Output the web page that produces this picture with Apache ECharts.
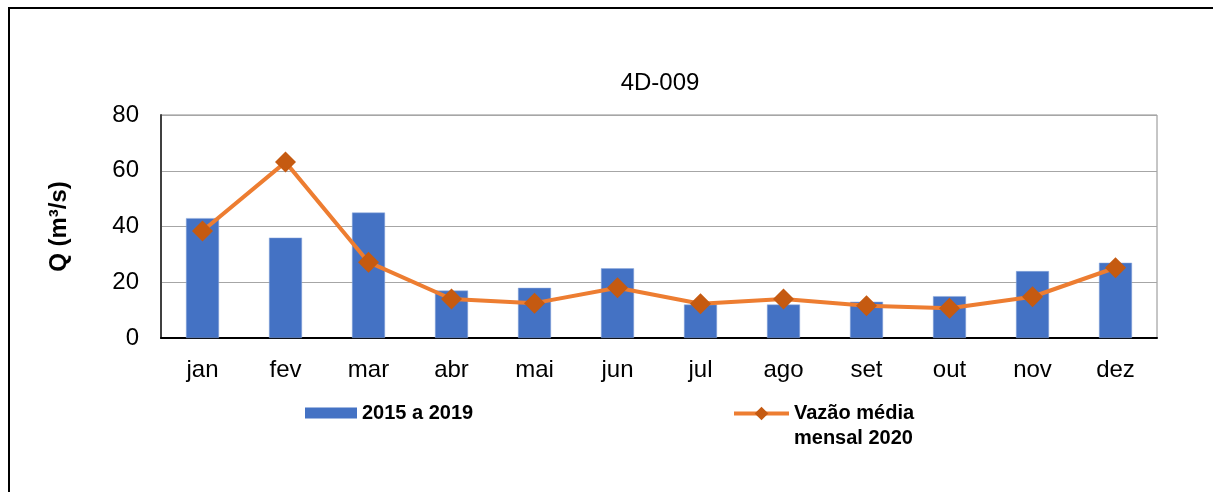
<!DOCTYPE html>
<html>
<head>
<meta charset="utf-8">
<script src="https://cdn.jsdelivr.net/npm/echarts@6/dist/echarts.min.js"></script>
<style>
  html, body { margin: 0; padding: 0; background: #fff; }
  #chart { width: 1213px; height: 492px; }
</style>
</head>
<body>
<div id="chart"></div>
<script>
// dados
const meses = ["jan", "fev", "mar", "abr", "mai", "jun", "jul", "ago", "set", "out", "nov", "dez"];
const media2015a2019 = [43, 36, 45, 17, 18, 25, 12, 12, 13, 15, 24, 27];
const vazao2020 = [38.4, 63.1, 27.2, 14, 12.5, 18, 12.3, 14, 11.6, 10.7, 14.8, 25.2];

const fonte = "Liberation Sans, Arial, sans-serif";

let myChart = echarts.init(document.getElementById("chart"));
myChart.setOption({
  animation: false,
  textStyle: { fontFamily: fonte },
  title: {
    text: "4D-009",
    left: 655,
    top: 66,
    textAlign: "center",
    textStyle: { fontSize: 24, fontWeight: "normal", color: "#000", fontFamily: fonte },
  },
  graphic: [
    {
      type: "rect",
      shape: { x: 9, y: 8, width: 1400, height: 700 },
      style: { fill: "none", stroke: "#000", lineWidth: 2 },
      silent: true,
    },
  ],
  grid: {
    left: 161,
    top: 115,
    width: 996,
    height: 223,
    show: true,
    borderColor: "#8c8c8c",
    borderWidth: 1,
  },
  legend: [
    {
      left: 300,
      top: 398,
      icon: "rect",
      itemWidth: 52,
      itemHeight: 11,
      itemStyle: { borderWidth: 0 },
      data: ["2015 a 2019"],
      textStyle: { fontSize: 20, fontWeight: "bold", color: "#000", lineHeight: 20, fontFamily: fonte },
    },
    {
      left: 727,
      top: 371,
      itemWidth: 55,
      itemHeight: 17,
      lineStyle: { width: 4 },
      data: ["Vazão média\nmensal 2020"],
      // linha vazia em cima para alinhar o ícone com a primeira linha
      formatter: (name) => "\n" + name,
      textStyle: { fontSize: 20, fontWeight: "bold", color: "#000", lineHeight: 25, fontFamily: fonte },
    },
  ],
  xAxis: {
    type: "category",
    data: meses,
    axisTick: { show: false },
    axisLine: { lineStyle: { color: "#000", width: 2 } },
    axisLabel: { fontSize: 24, color: "#000", margin: 20, fontFamily: fonte },
  },
  yAxis: {
    type: "value",
    min: 0,
    max: 80,
    interval: 20,
    name: "Q (m³/s)",
    nameLocation: "middle",
    nameGap: 90,
    nameTextStyle: { fontSize: 24, fontWeight: "bold", color: "#000", fontFamily: fonte },
    axisLine: { show: true, lineStyle: { color: "#404040", width: 2 } },
    axisTick: { show: false },
    axisLabel: { fontSize: 24, color: "#000", margin: 22, fontFamily: fonte },
    splitLine: { lineStyle: { color: "#a6a6a6", width: 1 } },
  },
  series: [
    {
      name: "2015 a 2019",
      type: "bar",
      data: media2015a2019,
      barWidth: 33,
      itemStyle: { color: "#4472C4", borderColor: "#8faadc", borderWidth: 0.5 },
    },
    {
      name: "Vazão média\nmensal 2020",
      type: "line",
      data: vazao2020,
      symbol: "diamond",
      symbolSize: 21,
      lineStyle: { color: "#ED7D31", width: 4 },
      itemStyle: { color: "#C55A11" },
      z: 3,
    },
  ],
});
</script>
</body>
</html>
